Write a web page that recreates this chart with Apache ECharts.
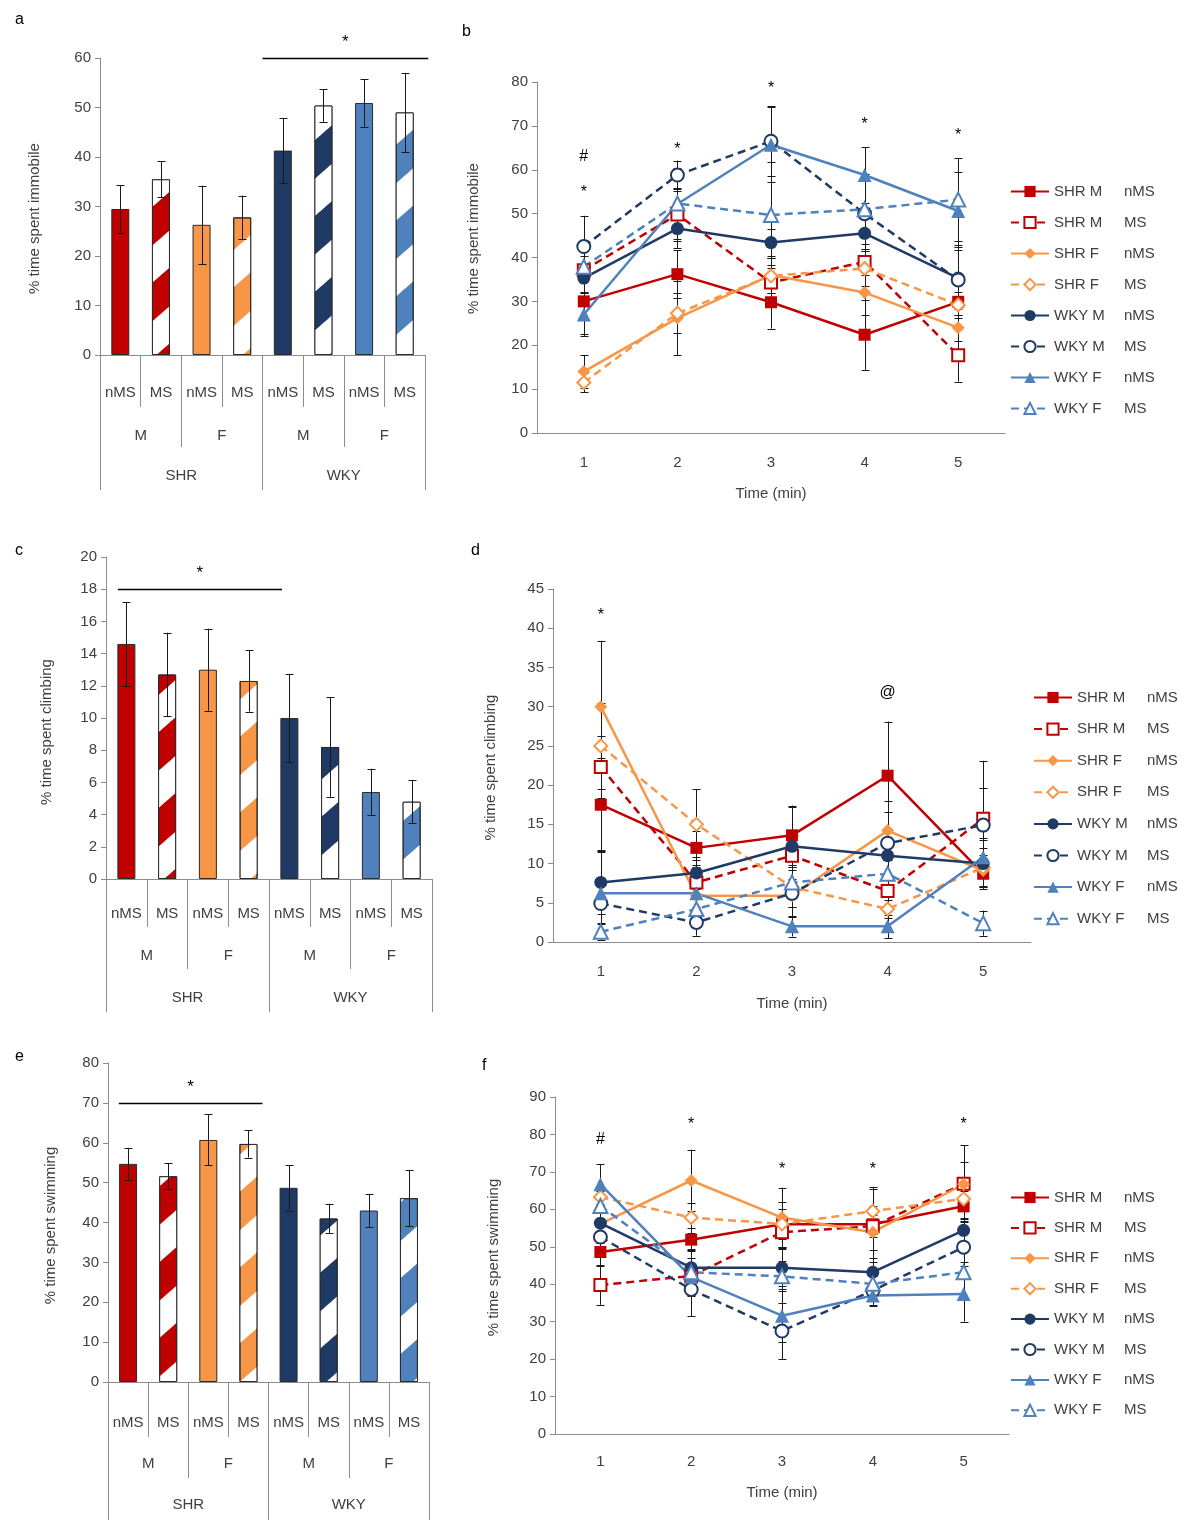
<!DOCTYPE html>
<html><head><meta charset="utf-8">
<script src="https://cdn.jsdelivr.net/npm/echarts@6/dist/echarts.min.js"></script>
<style>html,body{margin:0;padding:0;background:#fff}#c{width:1200px;height:1539px}</style>
</head><body><div id="c"></div>
<script>
// ---------- data ----------
const msLabels = ['nMS','MS','nMS','MS','nMS','MS','nMS','MS'];
const sexLabels = ['M','F','M','F'];
const strainLabels = ['SHR','WKY'];

const immobileMean = [29.5, 35.5, 26.3, 27.8, 41.3, 50.4, 50.9, 49.0];
const immobileSE   = [4.8, 3.6, 7.9, 4.4, 6.6, 3.3, 4.8, 8.0];
const climbingMean = [14.6, 12.7, 13.0, 12.3, 10.0, 8.2, 5.4, 4.8];
const climbingSE   = [2.6, 2.6, 2.55, 1.9, 2.75, 3.1, 1.45, 1.35];
const swimmingMean = [54.7, 51.6, 60.7, 59.7, 48.7, 41.0, 43.0, 46.1];
const swimmingSE   = [4.0, 3.2, 6.4, 3.4, 5.7, 3.7, 4.2, 7.1];

// significance bars: [from category, to category, value]
const immobileSig = [3.5, 7.58, 60];
const climbingSig = [-0.21, 3.82, 18];
const swimmingSig = [-0.23, 3.35, 70];

const timeLabels = ['1','2','3','4','5'];
const groupNames = ['SHR M nMS','SHR M MS','SHR F nMS','SHR F MS','WKY M nMS','WKY M MS','WKY F nMS','WKY F MS'];

const immobileTimeMean = [
  [30.0, 36.2, 29.8, 22.4, 29.9],
  [37.1, 49.8, 34.3, 39.0, 17.7],
  [14.0, 26.2, 36.0, 32.0, 24.0],
  [11.5, 27.3, 35.8, 37.5, 29.2],
  [35.3, 46.6, 43.4, 45.5, 35.3],
  [42.5, 58.8, 66.5, 50.0, 34.9],
  [27.0, 52.2, 65.7, 58.8, 50.6],
  [37.9, 52.3, 49.7, 51.0, 53.2]
];
const immobileTimeSE = [
  [7.5, 5.5, 6.0, 8.0, 6.0],
  [5.0, 6.0, 4.0, 3.0, 6.0],
  [3.7, 8.5, 4.0, 5.0, 3.0],
  [2.2, 4.5, 4.0, 4.0, 3.0],
  [5.0, 4.5, 3.0, 4.0, 7.0],
  [7.0, 3.3, 8.0, 8.0, 8.0],
  [5.0, 3.0, 8.5, 6.3, 9.0],
  [6.0, 8.0, 12.0, 8.0, 9.5]
];
const climbingTimeMean = [
  [17.5, 12.0, 13.6, 21.2, 8.7],
  [22.3, 7.6, 11.0, 6.5, 15.7],
  [30.0, 5.9, 5.9, 14.2, 9.1],
  [25.0, 15.0, 7.0, 4.2, 9.5],
  [7.6, 8.8, 12.2, 11.0, 10.0],
  [4.9, 2.5, 6.2, 12.6, 14.9],
  [6.2, 6.2, 2.0, 2.0, 10.8],
  [1.3, 4.2, 7.6, 8.7, 2.4]
];
const climbingTimeSE = [
  [6.0, 2.2, 3.8, 6.9, 2.0],
  [4.0, 2.0, 3.0, 2.0, 7.4],
  [8.4, 1.5, 1.5, 3.8, 2.0],
  [5.5, 4.5, 2.5, 1.2, 2.5],
  [4.0, 2.0, 5.0, 3.0, 3.0],
  [2.5, 1.7, 3.0, 4.0, 4.7],
  [5.5, 3.0, 1.3, 1.5, 2.5],
  [1.0, 2.0, 2.0, 2.0, 1.6]
];
const swimmingTimeMean = [
  [48.6, 51.9, 56.0, 56.0, 60.8],
  [39.8, 42.2, 53.9, 55.5, 66.8],
  [56.1, 67.7, 57.8, 53.9, 66.7],
  [63.3, 57.8, 56.1, 59.5, 62.8],
  [56.3, 44.4, 44.4, 43.2, 54.4],
  [52.6, 38.6, 27.5, 38.3, 49.9],
  [66.7, 41.9, 31.6, 37.0, 37.4],
  [60.9, 43.2, 42.1, 40.1, 43.2]
];
const swimmingTimeSE = [
  [3.6, 3.0, 6.0, 10.0, 4.0],
  [5.3, 3.0, 4.0, 3.0, 10.3],
  [5.0, 8.2, 8.0, 7.0, 6.0],
  [3.0, 4.0, 4.0, 6.0, 5.0],
  [4.0, 5.0, 5.0, 6.0, 3.0],
  [5.0, 7.2, 7.5, 4.0, 4.0],
  [5.3, 5.0, 7.0, 2.5, 7.4],
  [4.0, 6.0, 4.0, 4.0, 7.0]
];

// annotations: [time index, value, text]
const immobileMarks = [[0, 62.9, '#'], [0, 55.6, '*'], [1, 65.6, '*'], [2, 79.3, '*'], [3, 71.3, '*'], [4, 68.8, '*']];
const climbingMarks = [[0, 42.1, '*'], [3, 31.8, '@']];
const swimmingMarks = [[0, 78.5, '#'], [1, 83.6, '*'], [2, 71.6, '*'], [3, 71.6, '*'], [4, 83.6, '*']];

// ---------- style ----------
const FONT = "'Liberation Sans', Arial, sans-serif";
const TXT = '#404040';
const AXIS = '#8c8c8c';
const RED = '#C00000', ORANGE = '#F79646', NAVY = '#1F3A64', LBLUE = '#4F81BD';
const barColors = [RED, RED, ORANGE, ORANGE, NAVY, NAVY, LBLUE, LBLUE];
const seriesStyles = [
  {color: RED, symbol: 'rect', size: 12, dashed: false, empty: false},
  {color: RED, symbol: 'emptyRect', size: 12, dashed: true, empty: true},
  {color: ORANGE, symbol: 'diamond', size: 13, dashed: false, empty: false},
  {color: ORANGE, symbol: 'emptyDiamond', size: 13, dashed: true, empty: true},
  {color: NAVY, symbol: 'circle', size: 13, dashed: false, empty: false},
  {color: NAVY, symbol: 'emptyCircle', size: 13, dashed: true, empty: true},
  {color: LBLUE, symbol: 'triangle', size: 14, dashed: false, empty: false},
  {color: LBLUE, symbol: 'emptyTriangle', size: 14, dashed: true, empty: true}
];

const option = {
  animation: false,
  backgroundColor: '#fff',
  textStyle: {fontFamily: FONT},
  title: [], grid: [], xAxis: [], yAxis: [], series: [], legend: []
};

function errRender(params, api) {
  const x = api.value(0);
  const lo = api.coord([x, api.value(1)]);
  const hi = api.coord([x, api.value(2)]);
  const cx = Math.round(lo[0]) + 0.5;
  const w = 4;
  const st = {stroke: '#1a1a1a', lineWidth: 1};
  return {type: 'group', children: [
    {type: 'line', shape: {x1: cx, y1: lo[1], x2: cx, y2: hi[1]}, style: st},
    {type: 'line', shape: {x1: cx - w, y1: Math.round(lo[1]) + 0.5, x2: cx + w, y2: Math.round(lo[1]) + 0.5}, style: st},
    {type: 'line', shape: {x1: cx - w, y1: Math.round(hi[1]) + 0.5, x2: cx + w, y2: Math.round(hi[1]) + 0.5}, style: st}
  ]};
}

function sigRender(params, api) {
  const base = api.coord([0, api.value(1)]);
  const band = api.size([1, 0])[0];
  const x0 = base[0] + api.value(2) * band;
  const x1 = base[0] + api.value(3) * band;
  const y = Math.round(base[1]) + 0.5;
  return {type: 'group', children: [
    {type: 'line', shape: {x1: x0, y1: y, x2: x1, y2: y}, style: {stroke: '#000', lineWidth: 1.5}},
    {type: 'text', x: (x0 + x1) / 2, y: y - 16, style: {text: '*', font: '17px ' + FONT, fill: '#000', align: 'center', verticalAlign: 'middle', textAlign: 'center', textVerticalAlign: 'middle'}}
  ]};
}

function makeMarkRender(marks) {
  return function (params, api) {
    const p = api.coord([api.value(0), api.value(1)]);
    const t = marks[params.dataIndex][2];
    const dy = t === '*' ? 4 : 0;
    return {type: 'text', x: p[0], y: p[1] + dy, style: {text: t, font: '16px ' + FONT, fill: '#000', align: 'center', verticalAlign: 'middle', textAlign: 'center', textVerticalAlign: 'middle'}};
  };
}

function addTitle(t, left, top) {
  option.title.push({text: t, left: left, top: top, padding: 0, textStyle: {fontSize: 16, fontWeight: 'normal', color: '#000', fontFamily: FONT}});
}

function yNameStyle(shift) {
  // shift > 0 moves the rotated name down, < 0 moves it up
  const pad = shift > 0 ? [0, 2 * shift, 0, 0] : [0, 0, 0, -2 * shift];
  return {fontSize: 15, color: TXT, fontFamily: FONT, padding: pad};
}

function addBarPanel(cfg) {
  const g = option.grid.length;
  option.grid.push({left: cfg.left, top: cfg.top, width: cfg.width, height: cfg.height});
  const xi = option.xAxis.length;
  [msLabels, sexLabels, strainLabels].forEach(function (cats, k) {
    option.xAxis.push({
      type: 'category', gridIndex: g, position: 'bottom', data: cats,
      axisLine: {show: k === 0, lineStyle: {color: AXIS, width: 1}},
      axisTick: {show: true, interval: 0, length: cfg.tickLen[k], lineStyle: {color: AXIS}},
      axisLabel: {interval: 0, margin: cfg.labelMargin[k], color: TXT, fontSize: 15, fontFamily: FONT},
      splitLine: {show: false}
    });
  });
  const yi = option.yAxis.length;
  option.yAxis.push({
    type: 'value', gridIndex: g, min: 0, max: cfg.max, interval: cfg.interval,
    name: cfg.name, nameLocation: 'middle', nameGap: cfg.nameGap,
    nameTextStyle: yNameStyle(cfg.nameShift),
    axisLine: {show: true, lineStyle: {color: AXIS}},
    axisTick: {show: true, length: 5, lineStyle: {color: AXIS}},
    axisLabel: {margin: 9, color: TXT, fontSize: 15, fontFamily: FONT},
    splitLine: {show: false}
  });
  option.series.push({
    type: 'bar', xAxisIndex: xi, yAxisIndex: yi, barWidth: 18, z: 2,
    data: cfg.means.map(function (v, i) {
      const st = {color: barColors[i], borderColor: '#2a2a2a', borderWidth: 1};
      if (i % 2 === 1) {
        st.decal = {symbol: 'rect', symbolSize: 1, color: '#ffffff', dashArrayX: [1, 0], dashArrayY: [28, 29], rotation: -0.72};
      }
      return {value: v, itemStyle: st};
    })
  });
  option.series.push({
    type: 'custom', xAxisIndex: xi, yAxisIndex: yi, renderItem: errRender, z: 4,
    encode: {x: 0, y: [1, 2]},
    data: cfg.means.map(function (v, i) { return [i, v - cfg.se[i], v + cfg.se[i]]; })
  });
  option.series.push({
    type: 'custom', xAxisIndex: xi, yAxisIndex: yi, renderItem: sigRender, z: 4,
    encode: {x: 0, y: 1},
    data: [[0, cfg.sig[2], cfg.sig[0], cfg.sig[1]]]
  });
}

function addLinePanel(cfg) {
  const g = option.grid.length;
  option.grid.push({left: cfg.left, top: cfg.top, width: cfg.width, height: cfg.height});
  const xi = option.xAxis.length;
  option.xAxis.push({
    type: 'category', gridIndex: g, data: timeLabels, boundaryGap: true,
    name: 'Time (min)', nameLocation: 'middle', nameGap: cfg.xNameGap,
    nameTextStyle: {fontSize: 15, color: TXT, fontFamily: FONT},
    axisLine: {lineStyle: {color: AXIS}},
    axisTick: {interval: 0, length: 6, lineStyle: {color: AXIS}},
    axisLabel: {margin: cfg.xLabelMargin, color: TXT, fontSize: 15, fontFamily: FONT}
  });
  const yi = option.yAxis.length;
  option.yAxis.push({
    type: 'value', gridIndex: g, min: 0, max: cfg.max, interval: cfg.interval,
    name: cfg.name, nameLocation: 'middle', nameGap: cfg.nameGap,
    nameTextStyle: yNameStyle(cfg.nameShift),
    axisLine: {show: true, lineStyle: {color: AXIS}},
    axisTick: {show: true, length: 5, lineStyle: {color: AXIS}},
    axisLabel: {margin: 9, color: TXT, fontSize: 15, fontFamily: FONT},
    splitLine: {show: false}
  });
  const errData = [];
  groupNames.forEach(function (name, s) {
    const st = seriesStyles[s];
    option.series.push({
      type: 'line', name: name, xAxisIndex: xi, yAxisIndex: yi, z: 3,
      data: cfg.means[s], symbol: st.symbol, symbolSize: st.size, showAllSymbol: true,
      lineStyle: {color: st.color, width: 2.5, type: st.dashed ? [8, 5] : 'solid'},
      itemStyle: {color: st.color, borderColor: st.color, borderWidth: st.empty ? 2 : 0}
    });
    cfg.means[s].forEach(function (v, i) { errData.push([i, v - cfg.se[s][i], v + cfg.se[s][i]]); });
  });
  option.series.push({
    type: 'custom', xAxisIndex: xi, yAxisIndex: yi, renderItem: errRender, z: 2,
    encode: {x: 0, y: [1, 2]}, data: errData
  });
  option.series.push({
    type: 'custom', xAxisIndex: xi, yAxisIndex: yi, renderItem: makeMarkRender(cfg.marks), z: 5,
    encode: {x: 0, y: 1}, data: cfg.marks.map(function (m) { return [m[0], m[1]]; })
  });
  option.legend.push({
    orient: 'vertical', left: cfg.legendLeft, top: cfg.legendTop, padding: 0,
    itemWidth: 38, itemHeight: 14, itemGap: cfg.legendGap,
    data: groupNames, selectedMode: false,
    formatter: function (n) { const p = n.split(' '); return '{a|' + p[0] + ' ' + p[1] + '}{b|' + p[2] + '}'; },
    textStyle: {fontSize: 15, color: TXT, fontFamily: FONT, lineHeight: 14,
      rich: {a: {width: 70, fontSize: 15, color: TXT, fontFamily: FONT, lineHeight: 14},
             b: {fontSize: 15, color: TXT, fontFamily: FONT, lineHeight: 14}}}
  });
}

addTitle('a', 15, 12);
addTitle('b', 462, 24);
addTitle('c', 15, 543);
addTitle('d', 471, 543);
addTitle('e', 15, 1049);
addTitle('f', 482, 1058);

addBarPanel({left: 100, top: 58, width: 325, height: 297, max: 60, interval: 10,
  name: '% time spent immobile', nameGap: 58, nameShift: 12, means: immobileMean, se: immobileSE, sig: immobileSig,
  tickLen: [52, 92, 135], labelMargin: [30, 73, 113]});
addLinePanel({left: 537, top: 82, width: 468, height: 351, max: 80, interval: 10,
  name: '% time spent immobile', nameGap: 56, nameShift: -19, xNameGap: 53, xLabelMargin: 22,
  means: immobileTimeMean, se: immobileTimeSE, marks: immobileMarks,
  legendLeft: 1010, legendTop: 184, legendGap: 16});
addBarPanel({left: 106, top: 557, width: 326, height: 322, max: 20, interval: 2,
  name: '% time spent climbing', nameGap: 52, nameShift: 14, means: climbingMean, se: climbingSE, sig: climbingSig,
  tickLen: [48, 90, 133], labelMargin: [27, 69, 111]});
addLinePanel({left: 553, top: 589, width: 478, height: 353, max: 45, interval: 5,
  name: '% time spent climbing', nameGap: 55, nameShift: 2, xNameGap: 54, xLabelMargin: 22,
  means: climbingTimeMean, se: climbingTimeSE, marks: climbingMarks,
  legendLeft: 1033, legendTop: 690, legendGap: 16.6});
addBarPanel({left: 108, top: 1063, width: 321, height: 319, max: 80, interval: 10,
  name: '% time spent swimming', nameGap: 50, nameShift: 3, means: swimmingMean, se: swimmingSE, sig: swimmingSig,
  tickLen: [55, 96, 138], labelMargin: [33, 74, 115]});
addLinePanel({left: 555, top: 1097, width: 454, height: 337, max: 90, interval: 10,
  name: '% time spent swimming', nameGap: 54, nameShift: -8, xNameGap: 51, xLabelMargin: 20,
  means: swimmingTimeMean, se: swimmingTimeSE, marks: swimmingMarks,
  legendLeft: 1010, legendTop: 1190, legendGap: 15.4});

const chart = echarts.init(document.getElementById('c'), null, {renderer: 'canvas'});
chart.setOption(option);
</script>
</body></html>
